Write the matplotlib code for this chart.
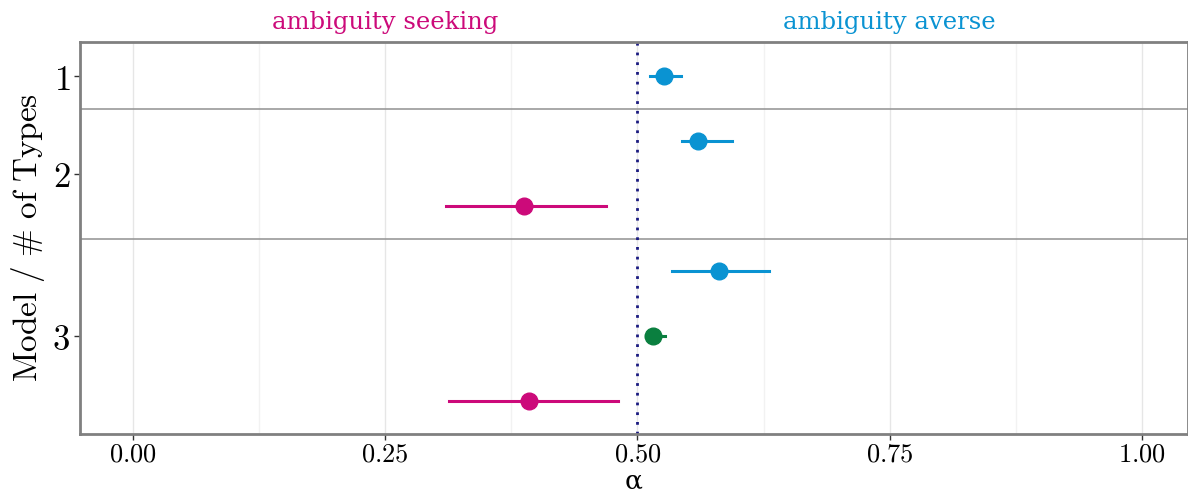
import matplotlib
matplotlib.use("Agg")
import matplotlib.pyplot as plt

plt.rcParams['mathtext.fontset'] = 'cm'

# rows from top to bottom
row_model = [1, 2, 2, 3, 3, 3]
row_type = ["averse", "averse", "seeking", "averse", "neutral", "seeking"]
alpha_est = [0.526, 0.560, 0.388, 0.581, 0.515, 0.393]
ci_low = [0.512, 0.544, 0.310, 0.534, 0.508, 0.313]
ci_high = [0.543, 0.594, 0.469, 0.630, 0.527, 0.481]

model_ticks = [1, 2, 3]
model_tick_pos = [0, 1.5, 4]
separators = [0.5, 2.5]

colors = {"averse": "#0a93d2", "seeking": "#cc0a7a", "neutral": "#0a7f3f"}

fig = plt.figure(figsize=(11.88, 4.95), dpi=100)
ax = fig.add_axes([0.0673, 0.124, 0.9327, 0.791])

xticks = [0.0, 0.25, 0.5, 0.75, 1.0]
for x in [0.125, 0.375, 0.625, 0.875]:
    ax.axvline(x, color="#f2f2f2", lw=1, zorder=0)
for x in xticks:
    ax.axvline(x, color="#e6e6e6", lw=1, zorder=0)

for s in separators:
    ax.axhline(s, color="#999999", lw=1.2, zorder=1)

ax.axvline(0.5, color="#1a1a80", lw=2, ls=(0, (1, 2.5)), zorder=2)

for i in range(len(alpha_est)):
    c = colors[row_type[i]]
    ax.plot([ci_low[i], ci_high[i]], [i, i], color=c, lw=2.2, zorder=3)
    ax.plot(alpha_est[i], i, "o", color=c, ms=12, zorder=4)

ax.set_xlim(-0.0525, 1.0456)
ax.set_ylim(5.5, -0.53)

ax.set_xticks(xticks)
ax.set_xticklabels([r"$\mathbf{%.2f}$" % x for x in xticks], fontsize=19)
ax.set_yticks(model_tick_pos)
ax.set_yticklabels([r"$\mathrm{%d}$" % m for m in model_ticks], fontsize=25)
ax.tick_params(axis="both", length=4, width=1, color="#333333", pad=3)
ax.tick_params(axis="x", pad=2)

ax.set_xlabel("α", fontsize=19, family="DejaVu Serif", labelpad=0)
ax.set_ylabel(r"$\mathrm{Model\ /\ \#\ of\ Types}$", fontsize=24, labelpad=4)

for side in ["top", "left", "bottom", "right"]:
    ax.spines[side].set_color("#808080")
    ax.spines[side].set_linewidth(2)

ax.text(0.25, 1.02, "ambiguity seeking", color=colors["seeking"], fontsize=17.5,
        family="DejaVu Serif", ha="center", va="bottom",
        transform=ax.get_xaxis_transform())
ax.text(0.75, 1.02, "ambiguity averse", color=colors["averse"], fontsize=17.5,
        family="DejaVu Serif", ha="center", va="bottom",
        transform=ax.get_xaxis_transform())

fig.savefig("out.png", dpi=100)
